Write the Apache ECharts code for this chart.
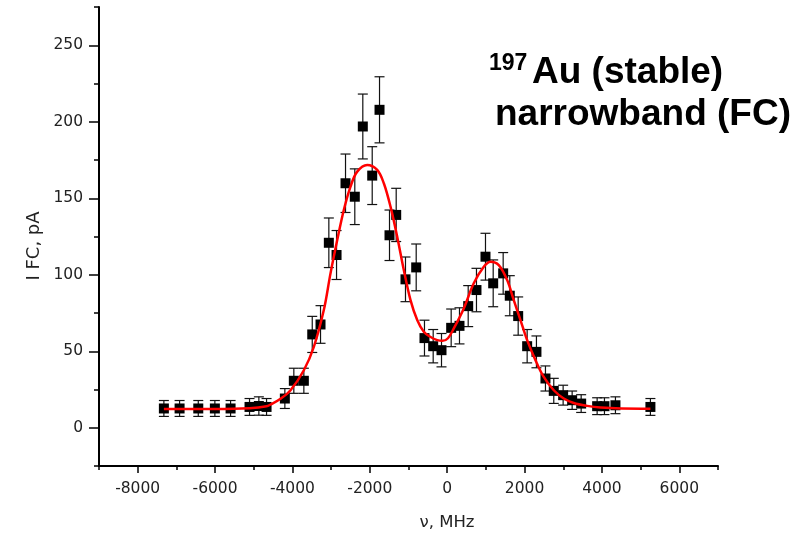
<!DOCTYPE html>
<html>
<head>
<meta charset="utf-8">
<style>
html,body{margin:0;padding:0;background:#fff;}
#chart{width:808px;height:539px;}
</style>
<script src="https://cdn.jsdelivr.net/npm/echarts@6/dist/echarts.min.js"></script>
</head>
<body>
<div id="chart"></div>
<script>
// Measured points (frequency, MHz)
var xVals = [-7323, -6917, -6434, -6005, -5599, -5109, -4868, -4669, -4196, -3964, -3705, -3488, -3274, -3059, -2860, -2628, -2388, -2181, -1938, -1749, -1491, -1318, -1078, -801, -587, -362, -147, 103, 318, 543, 757, 990, 1189, 1447, 1618, 1835, 2067, 2307, 2540, 2755, 2997, 3230, 3463, 3876, 4065, 4349, 5253];
// Faraday cup current, pA
var yVals = [12.6, 12.6, 12.6, 12.6, 12.6, 13.6, 14.2, 13.6, 19.1, 30.7, 30.7, 61, 67.5, 120.9, 112.9, 159.8, 151, 196.9, 164.8, 207.8, 125.8, 139.1, 97, 104.8, 58.6, 53.3, 50.7, 65.3, 66.6, 79.5, 90, 111.8, 94.4, 100.9, 86.3, 73, 53.3, 49.6, 32.2, 24.1, 21.3, 18, 15.8, 14.1, 14.1, 14.7, 13.6];
// Error bar half-heights, pA
var yErr = [5.2, 5.2, 5.2, 5.2, 5.2, 5.5, 6, 5.5, 6.5, 8.2, 8.2, 11.8, 12.3, 16.2, 16, 19.1, 18.2, 21.2, 18.9, 21.6, 16.5, 17.4, 14.6, 15.3, 11.7, 10.9, 10.9, 12.3, 11.8, 13.4, 14.2, 15.3, 15.3, 13.6, 13.1, 12.5, 10.9, 10.4, 8.2, 8.2, 6.5, 6, 5.8, 5.5, 5.5, 5.5, 5.5];
// Fit curve
var fitX = [-7323, -6000, -5109, -4669, -4566, -4307, -4049, -3705, -3447, -3189, -3016, -2842, -2672, -2499, -2326, -2067, -1809, -1638, -1465, -1292, -1121, -948, -775, -605, -440, -258, -120, 20, 171, 429, 687, 946, 1119, 1333, 1550, 1721, 1894, 2067, 2282, 2496, 2755, 3013, 3271, 3618, 3962, 4500, 5253];
var fitY = [12.3, 12.3, 12.8, 14, 15.2, 19, 24.5, 37.6, 52.9, 76.9, 100.9, 122.7, 142.3, 157.6, 167.4, 171.8, 168.5, 159.8, 144.5, 124.9, 103.1, 83.4, 70.4, 62.7, 59.5, 57.3, 56.8, 58.5, 64.9, 78, 94.4, 105.2, 108.5, 106.3, 96.5, 83.4, 70.4, 57.3, 44.2, 33.2, 24.5, 19.1, 16.2, 14.3, 13.2, 12.6, 12.5];
// Ticks
var xMajorTicks = [-8000, -6000, -4000, -2000, 0, 2000, 4000, 6000];
var xMinorTicks = [-9000, -7000, -5000, -3000, -1000, 1000, 3000, 5000, 7000];
var yMajorTicks = [0, 50, 100, 150, 200, 250];
var yMinorTicks = [-25, 25, 75, 125, 175, 225, 275];

var pts = xVals.map(function (x, i) { return [x, yVals[i]]; });
var bars = xVals.map(function (x, i) { return [x, yVals[i] - yErr[i], yVals[i] + yErr[i]]; });
var fit = fitX.map(function (x, i) { return [x, fitY[i]]; });

var FONT = 'DejaVu Sans';
var plain = function (v) { return String(v); };
var chart = echarts.init(document.getElementById('chart'), null, {renderer: 'canvas'});
var axisLineStyle = {color: '#000', width: 2};
chart.setOption({
  animation: false,
  backgroundColor: '#fff',
  grid: {left: 99, right: 90, top: 7, bottom: 73, containLabel: false},
  xAxis: [{
    type: 'value', min: -9000, max: 7000, position: 'bottom',
    axisLine: {show: true, onZero: false, lineStyle: axisLineStyle},
    axisTick: {show: true, customValues: xMajorTicks, length: 7, lineStyle: {color: '#000', width: 1.5}},
    axisLabel: {show: true, customValues: xMajorTicks, formatter: plain, margin: 15, color: '#222', fontFamily: FONT, fontSize: 15.5},
    splitLine: {show: false}
  }, {
    type: 'value', min: -9000, max: 7000, position: 'bottom',
    axisLine: {show: false, onZero: false},
    axisTick: {show: true, customValues: xMinorTicks, length: 4, lineStyle: {color: '#000', width: 1.5}},
    axisLabel: {show: false},
    splitLine: {show: false}
  }],
  yAxis: [{
    type: 'value', min: -25, max: 275, position: 'left',
    axisLine: {show: true, onZero: false, lineStyle: axisLineStyle},
    axisTick: {show: true, customValues: yMajorTicks, length: 10, lineStyle: {color: '#000', width: 1.5}},
    axisLabel: {show: true, customValues: yMajorTicks, formatter: plain, margin: 16, color: '#222', fontFamily: FONT, fontSize: 15.5},
    splitLine: {show: false}
  }, {
    type: 'value', min: -25, max: 275, position: 'left',
    axisLine: {show: false, onZero: false},
    axisTick: {show: true, customValues: yMinorTicks, length: 5, lineStyle: {color: '#000', width: 1.5}},
    axisLabel: {show: false},
    splitLine: {show: false}
  }],
  graphic: [
    {type: 'text', x: 34, y: 246, rotation: Math.PI / 2, silent: true,
      style: {text: 'I FC, pA', fontFamily: FONT, fontSize: 18, fill: '#222', align: 'center', verticalAlign: 'middle'}},
    {type: 'text', x: 447, y: 523, silent: true,
      style: {text: 'ν, MHz', fontFamily: FONT, fontSize: 16.5, fill: '#222', align: 'center', verticalAlign: 'middle'}},
    {type: 'text', x: 489, y: 64, silent: true,
      style: {text: '197', fontFamily: 'Liberation Sans', fontWeight: 'bold', fontSize: 23, fill: '#000', align: 'left', verticalAlign: 'middle'}},
    {type: 'text', x: 532, y: 73, silent: true,
      style: {text: 'Au (stable)', fontFamily: 'Liberation Sans', fontWeight: 'bold', fontSize: 37, fill: '#000', align: 'left', verticalAlign: 'middle'}},
    {type: 'text', x: 495, y: 115, silent: true,
      style: {text: 'narrowband (FC)', fontFamily: 'Liberation Sans', fontWeight: 'bold', fontSize: 37, fill: '#000', align: 'left', verticalAlign: 'middle'}}
  ],
  series: [{
    type: 'custom', name: 'err', xAxisIndex: 0, yAxisIndex: 0, z: 2,
    data: bars,
    renderItem: function (params, api) {
      var x = api.value(0);
      var lo = api.coord([x, api.value(1)]);
      var hi = api.coord([x, api.value(2)]);
      var w = 5;
      var st = {stroke: '#111', lineWidth: 1.2};
      return {type: 'group', children: [
        {type: 'line', shape: {x1: lo[0], y1: lo[1], x2: hi[0], y2: hi[1]}, style: st},
        {type: 'line', shape: {x1: lo[0] - w, y1: lo[1], x2: lo[0] + w, y2: lo[1]}, style: st},
        {type: 'line', shape: {x1: hi[0] - w, y1: hi[1], x2: hi[0] + w, y2: hi[1]}, style: st}
      ]};
    }
  }, {
    type: 'scatter', name: 'data', xAxisIndex: 0, yAxisIndex: 0, z: 3,
    symbol: 'rect', symbolSize: 10,
    itemStyle: {color: '#000', opacity: 1},
    data: pts
  }, {
    type: 'line', name: 'fit', xAxisIndex: 0, yAxisIndex: 0, z: 4,
    smooth: 0.35, showSymbol: false, symbol: 'none',
    lineStyle: {color: '#ff0000', width: 2.5},
    data: fit
  }]
});
</script>
</body>
</html>
